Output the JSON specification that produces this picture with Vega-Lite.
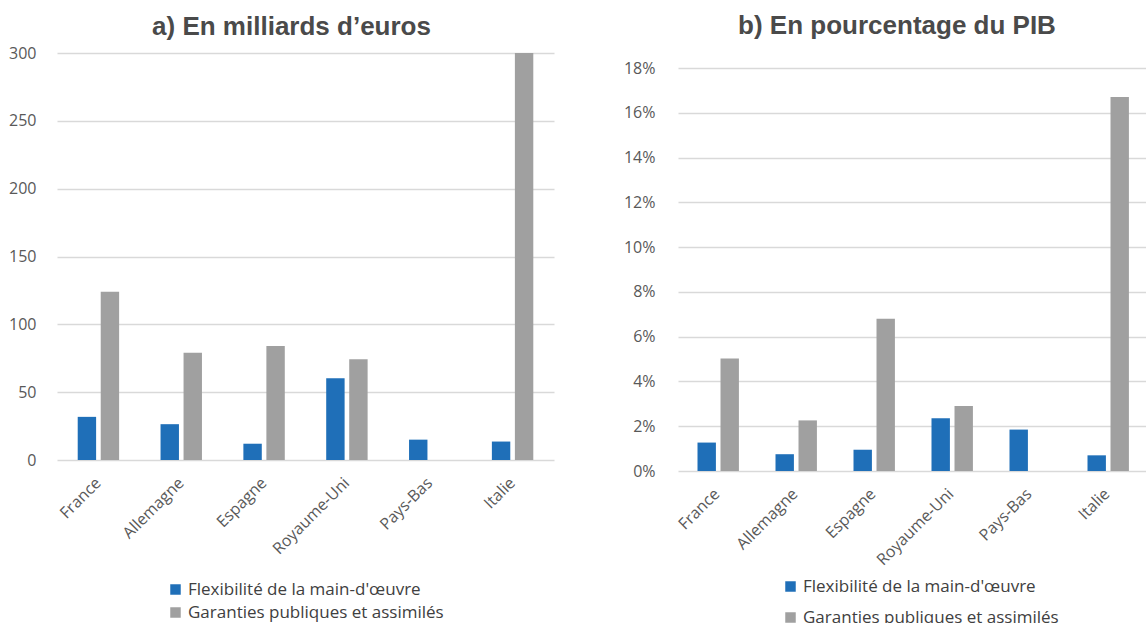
{
  "$schema": "https://vega.github.io/schema/vega-lite/v6.json",
  "padding": {"left": 8, "top": 13, "right": 0, "bottom": 0},
  "spacing": 69,
  "background": "white",
  "config": {
    "view": {"stroke": null},
    "font": "Open Sans",
    "axis": {"domain": false, "ticks": false, "labelFont": "Open Sans", "labelFontSize": 16, "labelColor": "#595959", "title": null, "gridColor": "#d9d9d9", "gridWidth": 1.5},
    "title": {"font": "Liberation Sans", "fontSize": 26, "fontWeight": "bold", "color": "#4a4a4a", "anchor": "middle"},
    "legend": {"title": null, "symbolType": "square", "symbolSize": 110, "symbolStrokeWidth": 0, "labelFont": "Open Sans", "labelFontSize": 17, "labelColor": "#404040", "direction": "vertical", "orient": "none", "labelLimit": 400}
  },
  "datasets": {
    "eur": [
      {"pays": "France", "serie": "Flexibilité de la main-d'œuvre", "valeur": 31.8},
      {"pays": "France", "serie": "Garanties publiques et assimilés", "valeur": 124},
      {"pays": "Allemagne", "serie": "Flexibilité de la main-d'œuvre", "valeur": 26.4},
      {"pays": "Allemagne", "serie": "Garanties publiques et assimilés", "valeur": 79},
      {"pays": "Espagne", "serie": "Flexibilité de la main-d'œuvre", "valeur": 12},
      {"pays": "Espagne", "serie": "Garanties publiques et assimilés", "valeur": 84},
      {"pays": "Royaume-Uni", "serie": "Flexibilité de la main-d'œuvre", "valeur": 60.3},
      {"pays": "Royaume-Uni", "serie": "Garanties publiques et assimilés", "valeur": 74.3},
      {"pays": "Pays-Bas", "serie": "Flexibilité de la main-d'œuvre", "valeur": 15},
      {"pays": "Italie", "serie": "Flexibilité de la main-d'œuvre", "valeur": 13.6},
      {"pays": "Italie", "serie": "Garanties publiques et assimilés", "valeur": 300}
    ],
    "pib": [
      {"pays": "France", "serie": "Flexibilité de la main-d'œuvre", "valeur": 0.0127},
      {"pays": "France", "serie": "Garanties publiques et assimilés", "valeur": 0.0502},
      {"pays": "Allemagne", "serie": "Flexibilité de la main-d'œuvre", "valeur": 0.0075},
      {"pays": "Allemagne", "serie": "Garanties publiques et assimilés", "valeur": 0.0226},
      {"pays": "Espagne", "serie": "Flexibilité de la main-d'œuvre", "valeur": 0.0095},
      {"pays": "Espagne", "serie": "Garanties publiques et assimilés", "valeur": 0.068},
      {"pays": "Royaume-Uni", "serie": "Flexibilité de la main-d'œuvre", "valeur": 0.0236},
      {"pays": "Royaume-Uni", "serie": "Garanties publiques et assimilés", "valeur": 0.029},
      {"pays": "Pays-Bas", "serie": "Flexibilité de la main-d'œuvre", "valeur": 0.0185},
      {"pays": "Italie", "serie": "Flexibilité de la main-d'œuvre", "valeur": 0.007},
      {"pays": "Italie", "serie": "Garanties publiques et assimilés", "valeur": 0.1671}
    ]
  },
  "resolve": {"legend": {"color": "independent"}, "scale": {"color": "independent"}},
  "hconcat": [
    {
      "title": {"text": "a) En milliards d’euros", "offset": 5, "dx": -14},
      "width": 497,
      "height": 407,
      "data": {"name": "eur"},
      "mark": {"type": "bar"},
      "encoding": {
        "x": {"field": "pays", "type": "nominal", "sort": ["France", "Allemagne", "Espagne", "Royaume-Uni", "Pays-Bas", "Italie"],
              "scale": {"paddingInner": 0.5, "paddingOuter": 0.25},
              "axis": {"labelAngle": -45, "labelBaseline": "middle", "labelPadding": 20, "grid": false}},
        "xOffset": {"field": "serie", "type": "nominal", "scale": {"domain": ["Flexibilité de la main-d'œuvre", "Garanties publiques et assimilés"], "paddingInner": 0.2}},
        "y": {"field": "valeur", "type": "quantitative", "scale": {"domain": [0, 300], "nice": false},
              "axis": {"values": [0, 50, 100, 150, 200, 250, 300], "labelPadding": 21, "grid": true}},
        "color": {"field": "serie", "type": "nominal",
                  "scale": {"domain": ["Flexibilité de la main-d'œuvre", "Garanties publiques et assimilés"], "range": ["#1f6fb8", "#a0a0a0"]},
                  "legend": {"legendX": 110, "legendY": 528, "rowPadding": 5}}
      }
    },
    {
      "title": {"text": "b) En pourcentage du PIB", "offset": 14, "dx": -15},
      "width": 468,
      "height": 418,
      "data": {"name": "pib"},
      "mark": {"type": "bar"},
      "encoding": {
        "x": {"field": "pays", "type": "nominal", "sort": ["France", "Allemagne", "Espagne", "Royaume-Uni", "Pays-Bas", "Italie"],
              "scale": {"paddingInner": 0.5, "paddingOuter": 0.25},
              "axis": {"labelAngle": -45, "labelBaseline": "middle", "labelPadding": 20, "grid": false}},
        "xOffset": {"field": "serie", "type": "nominal", "scale": {"domain": ["Flexibilité de la main-d'œuvre", "Garanties publiques et assimilés"], "paddingInner": 0.2}},
        "y": {"field": "valeur", "type": "quantitative", "scale": {"domain": [0, 0.1867], "nice": false},
              "axis": {"values": [0, 0.02, 0.04, 0.06, 0.08, 0.1, 0.12, 0.14, 0.16, 0.18], "format": ".0%", "labelPadding": 23, "grid": true}},
        "color": {"field": "serie", "type": "nominal",
                  "scale": {"domain": ["Flexibilité de la main-d'œuvre", "Garanties publiques et assimilés"], "range": ["#1f6fb8", "#a0a0a0"]},
                  "legend": {"legendX": 104, "legendY": 525, "rowPadding": 13}}
      }
    }
  ]
}
